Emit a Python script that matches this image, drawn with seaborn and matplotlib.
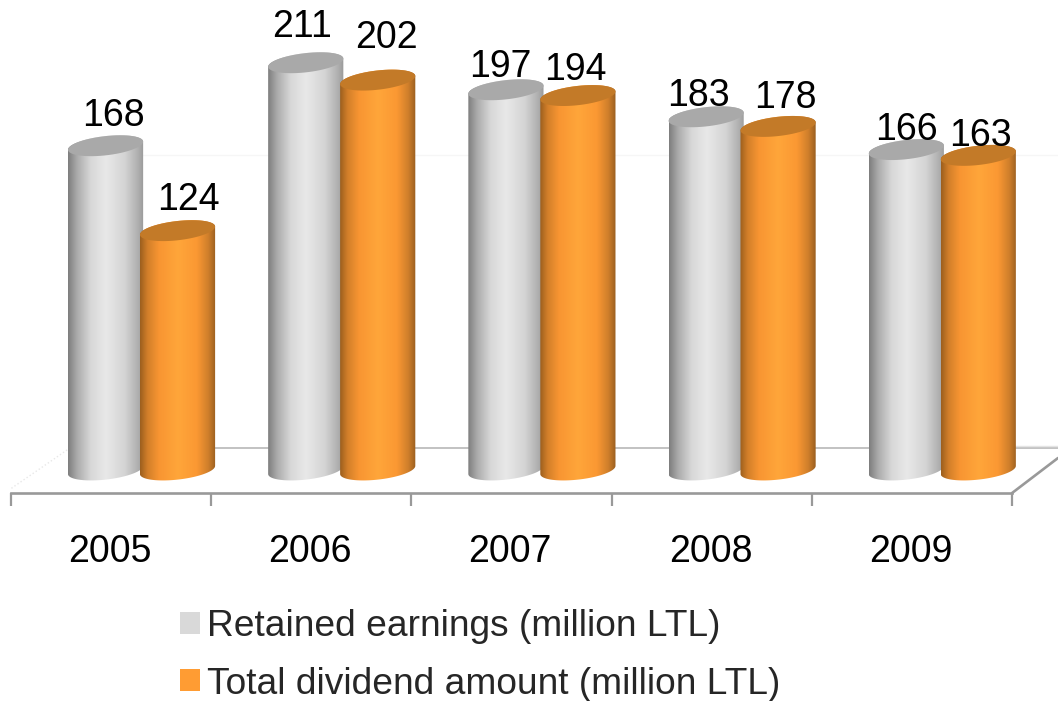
import numpy as np
import pandas as pd
import matplotlib
matplotlib.use('Agg')
import matplotlib.pyplot as plt
import seaborn as sns
from matplotlib.colors import LinearSegmentedColormap
from matplotlib.patches import Patch, Polygon

years = ['2005', '2006', '2007', '2008', '2009']
retained = [168, 211, 197, 183, 166]
dividend = [124, 202, 194, 178, 163]
series_names = ['Retained earnings (million LTL)', 'Total dividend amount (million LTL)']

sns.set_style('white')
plt.rcParams['font.family'] = ['Liberation Sans', 'DejaVu Sans']

df = pd.DataFrame({
    'year': years * 2,
    'value': retained + dividend,
    'series': [series_names[0]] * 5 + [series_names[1]] * 5,
})

fig = plt.figure(figsize=(10.58, 7.01), dpi=100)
ax = fig.add_axes([0, 0, 1, 1])
ax.patch.set_alpha(0)

sns.barplot(data=df, x='year', y='value', hue='series', order=years,
            palette=['#d9d9d9', '#ff9c33'], width=0.735, gap=0, saturation=1,
            legend=False, ax=ax)

# gradients that make the bars look like cylinders
grey_cmap = LinearSegmentedColormap.from_list('grey_cyl', [
    (0, '#7e7e7e'), (0.12, '#ababab'), (0.3, '#d8d8d8'), (0.5, '#e8e8e8'),
    (0.75, '#d4d4d4'), (0.92, '#b0b0b0'), (1, '#9a9a9a')])
orange_cmap = LinearSegmentedColormap.from_list('orange_cyl', [
    (0, '#9c5f1e'), (0.1, '#d27f2a'), (0.25, '#f89532'), (0.5, '#ffa63a'),
    (0.75, '#fb9833'), (0.9, '#cf7f2b'), (1, '#9a5f20')])
top_colors = ['#a9a9a9', '#c37a28']
shade = np.linspace(0, 1, 256).reshape(1, -1)

tilt = 2.1   # rise of the right side of the ellipses
flat = 5.0   # half height of the ellipses


def arc(cx, half, cy, start, end):
    t = np.linspace(start, end, 60)
    return np.column_stack([cx + half * np.cos(t), cy + tilt * np.cos(t) + flat * np.sin(t)])


for k, (container, cmap) in enumerate(zip(ax.containers, [grey_cmap, orange_cmap])):
    for bar in container:
        bar.set_visible(False)
        left = bar.get_x() - (0.008 if k == 1 else 0)
        right = bar.get_x() + bar.get_width() + (0.008 if k == 0 else 0)
        cx, half = (left + right) / 2, (right - left) / 2
        h = bar.get_height()
        body = np.vstack([arc(cx, half, 0, np.pi, 2 * np.pi), arc(cx, half, h, 0, np.pi)])
        clip = Polygon(body, closed=True, transform=ax.transData)
        im = ax.imshow(shade, cmap=cmap, aspect='auto', zorder=3 + k,
                       extent=[left, right, -10, h + 10], interpolation='bilinear')
        im.set_clip_path(clip)
        ax.add_patch(Polygon(arc(cx, half, h, 0, 2 * np.pi), closed=True,
                             facecolor=top_colors[k], edgecolor='none', zorder=3.5 + k))

# floor and back wall
ax.plot([-0.35, 4.578], [11.4, 11.4], color='#bdbdbd', lw=1.3, zorder=1)
ax.plot([4.0, 4.578], [12.6, 12.6], color='#e4e4e4', lw=1, zorder=1)
ax.plot([0.0, 4.578], [163, 163], color='#f6f6f6', lw=1, zorder=1)
ax.plot([4.349, 4.578], [-11.9, 6.2], color='#999999', lw=1.9, zorder=1)
ax.plot([-0.65, -0.37], [-9.5, 10.5], color='#e8e8e8', lw=1, ls=':', zorder=1)

ax.set_xlim(-0.707, 4.578)
ax.set_ylim(-119.7, 243.5)

for s in ['top', 'left', 'right']:
    ax.spines[s].set_visible(False)
ax.spines['bottom'].set_position(('data', -11.9))
ax.spines['bottom'].set_bounds(-0.652, 4.349)
ax.spines['bottom'].set_color('#999999')
ax.spines['bottom'].set_linewidth(1.9)
ax.set_yticks([])
ax.set_ylabel('')
ax.set_xlabel('')
ax.set_xticks(np.arange(5) - 0.158, labels=years)
ax.set_xticks(np.arange(6) - 0.652, minor=True)
ax.tick_params(axis='x', which='major', length=0, pad=29.5, labelsize=27, labelcolor='black')
ax.tick_params(axis='x', which='minor', length=9, width=1.6, color='#999999', bottom=True)

# value labels, nudged by hand like the original
offsets = [[(9, 34), (-3, 40), (-5, 27), (-7, 25), (1, 24)],
           [(10, 35), (8, 46), (-3, 30), (6, 32), (1, 23)]]
for k, values in enumerate([retained, dividend]):
    for i, v in enumerate(values):
        bar = ax.containers[k][i]
        ax.annotate(str(v), (bar.get_x() + bar.get_width() / 2, v),
                    xytext=(offsets[k][i][0] * 0.72, (offsets[k][i][1] - 4) * 0.72),
                    textcoords='offset points', ha='center', va='center',
                    fontsize=27, color='black', zorder=10)

handles = [Patch(facecolor='#d9d9d9', edgecolor='none'), Patch(facecolor='#ff9c33', edgecolor='none')]
leg = ax.legend(handles, series_names, loc='upper left', bbox_to_anchor=(180 / 1058, 1 - 609 / 701),
                frameon=False, fontsize=26.7, handlelength=0.535, handleheight=0.535,
                handletextpad=0.2, labelspacing=0.61, borderpad=0, borderaxespad=0)
for t in leg.get_texts():
    t.set_color('#262626')

fig.savefig('out.png', dpi=100)
